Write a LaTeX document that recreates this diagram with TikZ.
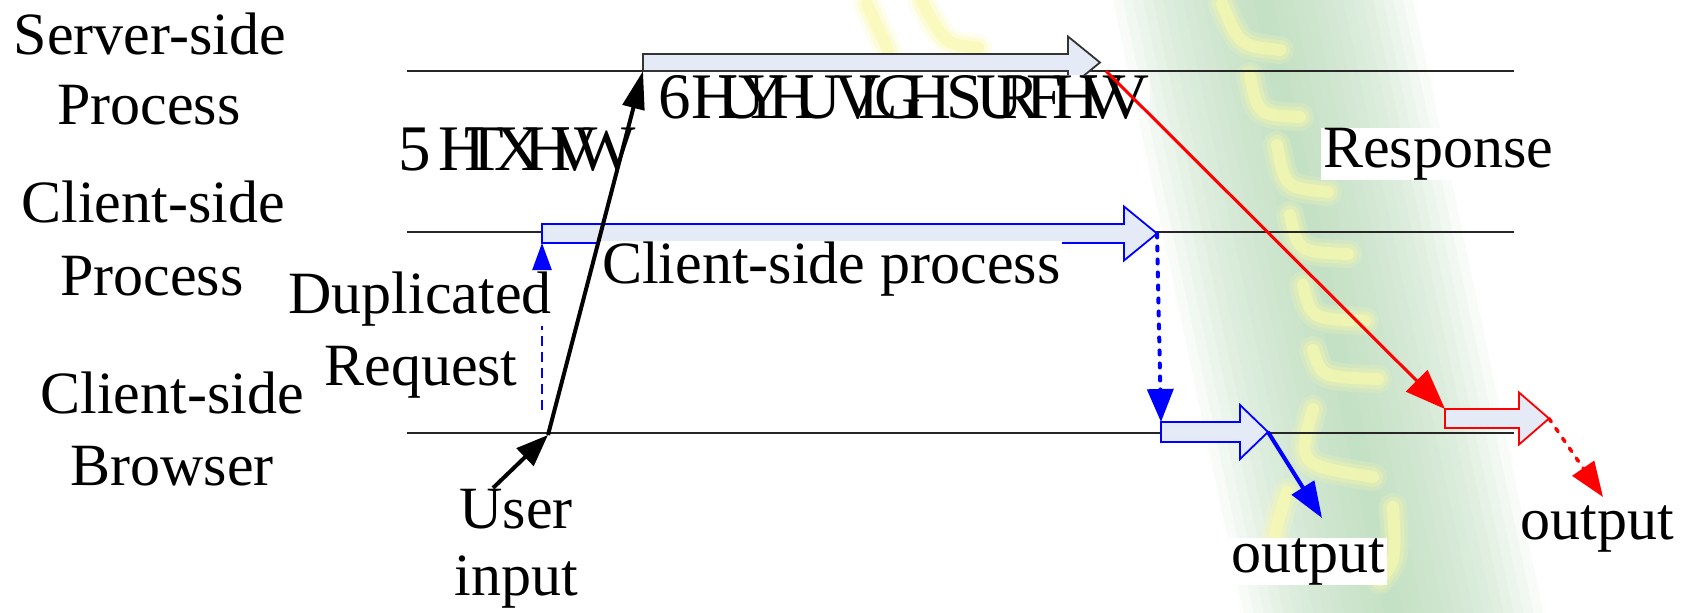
\documentclass[tikz,border=0pt]{standalone}
\usepackage{fontspec}
\setmainfont{Liberation Serif}
\usetikzlibrary{arrows.meta}

\definecolor{bandg}{RGB}{188,222,188}
\definecolor{marky}{RGB}{250,250,172}
\definecolor{boxfill}{RGB}{228,234,246}

% glyph #2 (set slightly larger) in the advance width of #1
\newcommand\gl[2]{\setbox0=\hbox{#1}\hbox to \wd0{\fontsize{65}{72}\selectfont #2\hss}}

% block arrow: style, left x, head x, tip x, centre y, body half height, head half height, name
\newcommand\blockarrow[8]{%
  \draw[#1] (#2,#5-#6) -- (#3,#5-#6) -- (#3,#5-#7) -- (#4,#5) -- (#3,#5+#7)
            -- (#3,#5+#6) -- (#2,#5+#6) -- cycle;
  \coordinate (#8-W) at (#2,#5);
  \coordinate (#8-T) at (#4,#5);
  \coordinate (#8-SW) at (#2,#5+#6);
  \coordinate (#8-NW) at (#2,#5-#6);
}

% faint yellow stroke with a soft edge
\newcommand\yellowstroke[1]{%
  \draw[marky, line width=28pt, opacity=0.2, line cap=round] #1;
  \draw[marky, line width=20pt, opacity=0.3, line cap=round] #1;
  \draw[marky, line width=12pt, opacity=0.6, line cap=round] #1;
}

\begin{document}
\begin{tikzpicture}[x=1pt, y=-1pt,
  lbl/.style={inner sep=0pt, anchor=base, font=\fontsize{60}{72}\selectfont},
  lblw/.style={lbl, fill=white, inner xsep=2pt},
  hline/.style={line width=2pt, black!85},
  blkbox/.style={line width=1.8pt, fill=boxfill},
  blackarr/.style={line width=4pt, black},
]
\useasboundingbox (0,0) rectangle (1687,613);
\fill[white] (0,0) rectangle (1687,613);

% background band: stacked translucent strips give a soft edge
\foreach \w in {10,20,...,150} {
  \fill[bandg, opacity=0.1] (1262-\w,-5) -- (1262+\w,-5) -- (1395+\w,620) -- (1395-\w,620) -- cycle;
}
\yellowstroke{(867,4) -- (888,50)}
\yellowstroke{(922,2) .. controls (945,44) .. (978,48)}
\yellowstroke{(1222,4) .. controls (1240,46) .. (1280,50)}
\yellowstroke{(1250,76) .. controls (1258,115) .. (1300,117)}
\yellowstroke{(1277,145) .. controls (1285,188) .. (1328,192)}
\yellowstroke{(1290,215) .. controls (1298,252) .. (1348,254)}
\yellowstroke{(1303,285) .. controls (1311,319) .. (1365,321)}
\yellowstroke{(1313,350) .. controls (1321,377) .. (1378,379)}
\yellowstroke{(1313,409) .. controls (1297,465) .. (1373,477)}
\yellowstroke{(1287,492) .. controls (1278,520) .. (1273,547)}
\yellowstroke{(1393,507) .. controls (1396,560) .. (1380,580)}

% swim-lane lines
\coordinate (sL) at (407,71);   \coordinate (sR) at (1514,71);
\coordinate (cL) at (407,232);  \coordinate (cR) at (1514,232);
\coordinate (bL) at (407,433);  \coordinate (bR) at (1514,433);
\draw[hline] (sL) -- (sR);
\draw[hline] (cL) -- (cR);
\draw[hline] (bL) -- (bR);

% process blocks
\blockarrow{blkbox, draw=black!80}{643}{1068}{1100}{62.5}{8.5}{26}{srv}
\blockarrow{blkbox, draw=blue}{542}{1124}{1157}{233.5}{9.5}{27}{csp}
\blockarrow{blkbox, draw=blue}{1161}{1240}{1268}{432}{10}{27}{brw}
\blockarrow{blkbox, draw=red}{1445}{1519}{1549}{418.5}{9.5}{26}{rsp}

% duplicated request
\coordinate (dupS) at (542,410);
\draw[blue, line width=2.5pt, dash pattern=on 10pt off 6pt,
      -{Triangle[length=27pt,width=19pt]}] (dupS) -- (csp-SW);

% lane labels
\node[lbl] (ls1) at (150,54)  {Server-side};
\node[lbl] (ls2) at (149,124) {Process};
\node[lbl] (lc1) at (153,222) {Client-side};
\node[lbl] (lc2) at (152,295) {Process};
\node[lbl] (lb1) at (172,413) {Client-side};
\node[lbl] (lb2) at (172,485) {Browser};

% flow labels
\node[lbl, anchor=base west] (treq) at (398,170)
  {\gl{R}{5}\gl{e}{H}\gl{q}{T}\gl{u}{X}\gl{e}{H}\gl{s}{V}{\fontsize{65}{72}\selectfont W}};
\node[lblw, anchor=base west, inner xsep=0pt] (tsrv) at (658,118)
  {\gl{S}{6}\gl{e}{H}\gl{r}{U}\gl{v}{Y}\gl{e}{H}\gl{r}{U}\gl{-}{}\gl{s}{V}\gl{i}{L}\gl{d}{G}\gl{e}{H}\gl{\ }{}\gl{p}{S}\gl{r}{U}\gl{o}{R}\gl{c}{F}\gl{e}{H}\gl{s}{V}{\fontsize{65}{72}\selectfont V}};
\node[lblw, anchor=base west] (tcsp) at (600,283) {Client-side process};
\node[lblw] (tdup) at (420,313) {Duplicated};
\node[lbl]  (tdrq) at (421,385) {Request};
\node[lbl]  (tusr) at (516,528) {User};
\node[lbl]  (tinp) at (516,595) {input};
\node[lblw, anchor=base west] (tres) at (1321,167) {Response};
\node[lblw] (toutb) at (1308,572) {output};
\node[lbl]  (toutr) at (1597,539) {output};

% user input and request
\coordinate (ui) at (493,488);
\coordinate (jn) at (548,435);
\draw[blackarr, -{Triangle[length=32pt,width=24pt]}] (ui) -- (jn);
\draw[blackarr, -{Triangle[length=38pt,width=22pt]}] (jn) -- (srv-SW);

% client-side result to the browser
\draw[blue, line width=4pt, dash pattern=on 4pt off 9pt, line cap=round,
      -{Triangle[length=33pt,width=26pt]}] (csp-T) -- (brw-NW);
\coordinate (ob) at (1322,518);
\draw[blue, line width=4pt, -{Triangle[length=36pt,width=26pt]}] (brw-T) -- (ob);

% server response
\coordinate (srvR) at (1106,71);
\draw[red, line width=3pt, -{Triangle[length=40pt,width=30pt]}] (srvR) -- (rsp-NW);
\coordinate (orr) at (1603,497);
\draw[red, line width=3.5pt, dash pattern=on 4pt off 8pt, line cap=round,
      -{Triangle[length=35pt,width=26pt]}] (rsp-T) -- (orr);
\end{tikzpicture}
\end{document}
